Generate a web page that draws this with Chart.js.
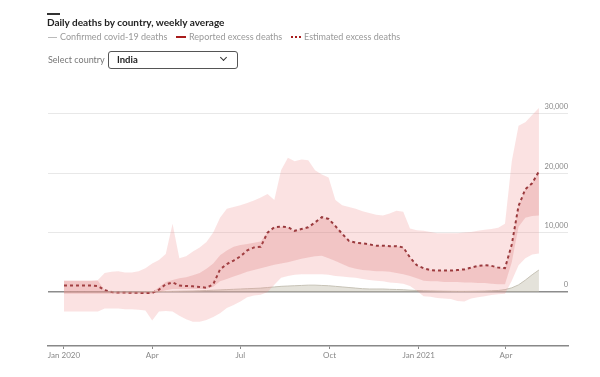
<!DOCTYPE html>
<html>
<head>
<meta charset="utf-8">
<script src="https://cdn.jsdelivr.net/npm/chart.js@4.4.1/dist/chart.umd.min.js"></script>
<style>
	body { margin: 0; background: #fff; font-family: Lato, "Open Sans", sans-serif; }
	#wrap { position: relative; width: 600px; height: 377px; overflow: hidden; }
	#chart { position: absolute; left: 0; top: 0; }
	.abs { position: absolute; white-space: nowrap; }
	.bar { left: 47px; top: 13px; width: 13px; height: 2px; background: #333; }
	.title { left: 47px; top: 16px; font-size: 10px; line-height: 13px; font-weight: 700; color: #222; }
	.leg { top: 31px; font-size: 9px; line-height: 12px; color: #999; }
	.sw { top: 37px; height: 1px; }
	.sel-label { left: 48px; top: 54px; font-size: 9px; line-height: 12px; color: #777; }
	.sel { left: 108px; top: 51px; width: 128px; height: 16px; border: 1px solid #555; border-radius: 3px; }
	.sel-text { left: 8px; top: 2px; font-size: 9.5px; line-height: 12px; font-weight: 700; color: #222; }
	.chev { left: 112px; top: 3px; width: 4px; height: 4px; border-right: 1.3px solid #333; border-bottom: 1.3px solid #333; transform: rotate(45deg); }
</style>
</head>
<body>
<div id="wrap">
	<canvas id="chart" width="600" height="377"></canvas>
	<div class="abs bar"></div>
	<div class="abs title">Daily deaths by country, weekly average</div>
	<div class="abs sw" style="left:48px;width:9px;background:#bbb;"></div>
	<div class="abs leg" style="left:60px;">Confirmed covid-19 deaths</div>
	<div class="abs sw" style="left:176px;width:10px;height:2px;top:36px;background:#a81c1c;"></div>
	<div class="abs leg" style="left:189px;">Reported excess deaths</div>
	<div class="abs sw" style="left:291px;width:11px;height:2px;top:36px;background:repeating-linear-gradient(90deg,#a81c1c 0 2px,transparent 2px 4px);"></div>
	<div class="abs leg" style="left:304px;">Estimated excess deaths</div>
	<div class="abs sel-label">Select country</div>
	<div class="abs sel">
		<div class="abs sel-text">India</div>
		<div class="abs chev"></div>
	</div>
</div>
<script>
// weekly points, Jan 2020 - May 2021
var weeks = [
	'2020-01-01','2020-01-08','2020-01-15','2020-01-22','2020-01-29',
	'2020-02-05','2020-02-12','2020-02-19','2020-02-26',
	'2020-03-04','2020-03-11','2020-03-18','2020-03-25',
	'2020-04-01','2020-04-08','2020-04-15','2020-04-22','2020-04-29',
	'2020-05-06','2020-05-13','2020-05-20','2020-05-27',
	'2020-06-03','2020-06-10','2020-06-17','2020-06-24',
	'2020-07-01','2020-07-08','2020-07-15','2020-07-22','2020-07-29',
	'2020-08-05','2020-08-12','2020-08-19','2020-08-26',
	'2020-09-02','2020-09-09','2020-09-16','2020-09-23','2020-09-30',
	'2020-10-07','2020-10-14','2020-10-21','2020-10-28',
	'2020-11-04','2020-11-11','2020-11-18','2020-11-25',
	'2020-12-02','2020-12-09','2020-12-16','2020-12-23','2020-12-30',
	'2021-01-06','2021-01-13','2021-01-20','2021-01-27',
	'2021-02-03','2021-02-10','2021-02-17','2021-02-24',
	'2021-03-03','2021-03-10','2021-03-17','2021-03-24','2021-03-31',
	'2021-04-07','2021-04-14','2021-04-21','2021-04-28',
	'2021-05-05'
];

// estimated excess deaths (central)
var estimated = [
	1100, 1100, 1100, 1100, 1100, 1000, 300, 0, -100, -100,
	-150, -150, -200, -150, 400, 1300, 1600, 1100, 1000, 950,
	850, 700, 1300, 3800, 4700, 5300, 6000, 7000, 7500, 7600,
	10000, 10900, 11000, 10900, 10300, 10600, 10900, 11700, 12600, 12300,
	11100, 9800, 8600, 8300, 8200, 8000, 7800, 7800, 7700, 7700,
	7500, 5800, 4500, 4000, 3700, 3600, 3600, 3600, 3700, 3800,
	4100, 4400, 4500, 4400, 4100, 4000, 8000, 14500, 17300, 18300,
	20300
];

// outer range (light band)
var lightHigh = [
	1900, 1900, 1900, 1900, 1900, 2000, 3200, 3400, 3500, 3300,
	3300, 3500, 4000, 4800, 5400, 6400, 11500, 5700, 6000, 6800,
	7500, 8400, 10000, 12500, 14000, 14300, 14600, 15000, 15400, 15900,
	16500, 15500, 20500, 22600, 22000, 22300, 22200, 20500, 19800, 19300,
	15500, 14600, 14300, 14000, 13600, 13300, 13000, 12900, 13200, 13700,
	13500, 10700, 10400, 10300, 10100, 9900, 9900, 9900, 9900, 10000,
	10100, 10300, 10500, 10600, 10800, 11500, 22000, 28000, 28600, 29800,
	31000
];
var lightLow = [
	-3300, -3300, -3300, -3300, -3300, -3300, -2800, -2800, -2800, -2900,
	-2900, -3000, -3100, -4800, -3300, -3200, -3300, -4000, -4600, -5000,
	-5000, -4700, -4200, -3600, -2700, -2200, -1600, -900, -600, -450,
	0, 1200, 2400, 2700, 2900, 3000, 3000, 3000, 3000, 2900,
	2700, 2600, 2500, 2400, 2200, 2000, 1900, 1800, 1600, 1500,
	1400, 1000, 200, -700, -800, -1000, -1100, -1200, -1500, -1600,
	-1100, -900, -700, -500, -400, -300, 1900, 4500, 5700, 6300,
	6500
];

// inner range (dark band)
var darkHigh = [
	1900, 1900, 1900, 1900, 1900, 1900, 300, 0, 0, 0,
	0, 0, 0, 0, 800, 1700, 2000, 2300, 2500, 2800,
	3200, 3900, 4800, 6200, 7000, 7600, 7900, 8100, 8300, 8500,
	10000, 10900, 11000, 10900, 10300, 10600, 10900, 11700, 12600, 12300,
	11100, 9800, 8600, 8300, 8200, 8000, 7800, 7800, 7700, 7700,
	7500, 5800, 4500, 4000, 3700, 3600, 3600, 3600, 3700, 3800,
	4100, 4400, 4500, 4400, 4100, 4000, 8000, 14500, 17300, 18300,
	20300
];
var darkLow = [
	-300, -300, -300, -300, -300, -300, -300, -300, -300, -300,
	-300, -300, -300, -300, 0, 300, 500, 500, 500, 500,
	500, 500, 900, 1800, 2200, 2600, 3000, 3400, 3700, 4000,
	4300, 4600, 4800, 5000, 5300, 5600, 5800, 6000, 6100, 5700,
	5200, 4700, 4200, 3900, 3700, 3600, 3500, 3500, 3400, 3200,
	3000, 2700, 2300, 1900, 1800, 1800, 1700, 1700, 1700, 1600,
	1600, 1500, 1500, 1400, 1300, 1300, 5000, 11000, 12500, 12800,
	12900
];

// confirmed covid-19 deaths
var confirmed = [
	0, 0, 0, 0, 0, 0, 0, 0, 0, 0,
	0, 10, 30, 50, 70, 80, 100, 120, 140, 160,
	200, 250, 300, 350, 400, 450, 500, 550, 600, 650,
	750, 850, 950, 1000, 1050, 1100, 1150, 1150, 1100, 1050,
	950, 850, 750, 650, 550, 500, 500, 500, 450, 420,
	380, 300, 250, 200, 180, 150, 130, 110, 100, 100,
	110, 120, 150, 200, 250, 400, 700, 1200, 2000, 2900,
	3700
];

var tickDates = ['2020-01-01', '2020-04-01', '2020-07-01', '2020-10-01', '2021-01-01', '2021-04-01'];
var tickLabels = ['Jan 2020', 'Apr', 'Jul', 'Oct', 'Jan 2021', 'Apr'];
var yTicks = [0, 10000, 20000, 30000];

function dayOf(s) {
	return (Date.parse(s) - Date.parse('2020-01-01')) / 86400000;
}
function pts(arr) {
	return arr.map(function(v, i) { return { x: dayOf(weeks[i]), y: v }; });
}

var ctx = document.getElementById('chart').getContext('2d');
var chart = new Chart(ctx, {
	type: 'line',
	data: {
		datasets: [{
			data: pts(lightHigh),
			borderColor: 'transparent',
			backgroundColor: 'rgba(238,140,140,0.25)',
			fill: '+1'
		}, {
			data: pts(lightLow),
			borderColor: 'transparent',
			fill: false
		}, {
			data: pts(darkHigh),
			borderColor: 'transparent',
			backgroundColor: 'rgba(200,84,84,0.22)',
			fill: '+1'
		}, {
			data: pts(darkLow),
			borderColor: 'transparent',
			fill: false
		}, {
			data: pts(confirmed),
			borderColor: '#c6c2b6',
			borderWidth: 1,
			backgroundColor: 'rgba(196,190,172,0.45)',
			fill: 'origin'
		}, {
			data: pts(estimated),
			borderColor: '#761a1f',
			borderWidth: 2,
			borderDash: [3, 3],
			fill: false
		}]
	},
	options: {
		responsive: false,
		animation: false,
		devicePixelRatio: 1,
		elements: { point: { radius: 0 }, line: { tension: 0 } },
		layout: { padding: { left: 48, top: 102, right: 0, bottom: 0 } },
		plugins: { legend: { display: false }, tooltip: { enabled: false } },
		scales: {
			x: {
				type: 'linear',
				min: -16.5,
				max: 520,
				afterBuildTicks: function(scale) {
					scale.ticks = tickDates.map(function(d) { return { value: dayOf(d) }; });
				},
				afterFit: function(scale) { scale.height = 31; },
				ticks: {
					autoSkip: false,
					maxRotation: 0,
					padding: 2,
					color: '#888',
					font: { family: 'Lato', size: 8 },
					callback: function(v, i) { return tickLabels[i]; }
				},
				grid: { drawOnChartArea: false, drawTicks: true, tickLength: 3, color: '#888' },
				border: { color: '#888', width: 1.5 }
			},
			y: {
				position: 'right',
				min: -9100,
				max: 32000,
				afterBuildTicks: function(scale) {
					scale.ticks = yTicks.map(function(v) { return { value: v }; });
				},
				afterFit: function(scale) { scale.width = 32; },
				ticks: {
					mirror: true,
					padding: 0,
					labelOffset: -7,
					color: '#888',
					font: { family: 'Lato', size: 7.5 },
					callback: function(v) { return v.toLocaleString('en-US'); }
				},
				grid: {
					drawTicks: false,
					color: function(c) { return c.tick && c.tick.value === 0 ? '#8c8c8c' : '#e8e8e8'; },
					lineWidth: function(c) { return c.tick && c.tick.value === 0 ? 1.5 : 1; }
				},
				border: { display: false }
			}
		}
	}
});
</script>
</body>
</html>
